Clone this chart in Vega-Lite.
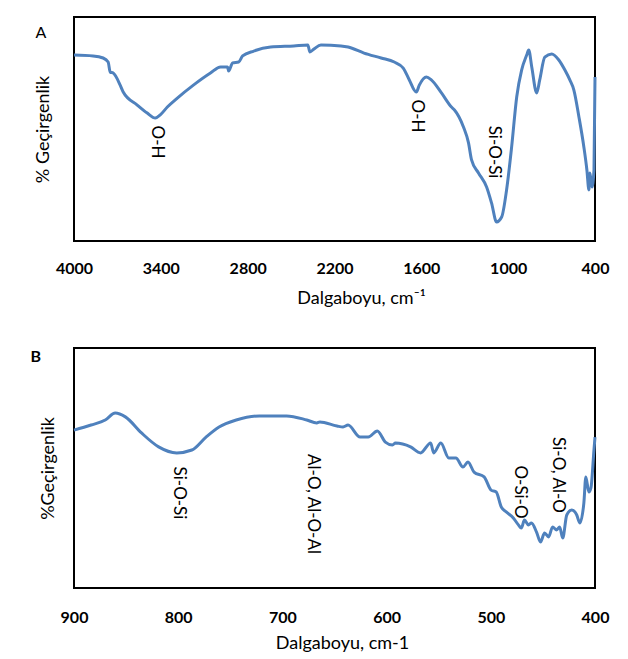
{
  "$schema": "https://vega.github.io/schema/vega-lite/v6.json",
  "padding": {"left": 29, "top": 16, "right": 5, "bottom": 5},
  "background": "white",
  "config": {
    "view": {"stroke": "black", "strokeWidth": 2},
    "font": "Lato",
    "axis": {"grid": false}
  },
  "datasets": {
    "specA": [
      {"wn": 4000, "t": 83.0}, {"wn": 3868, "t": 82.6}, {"wn": 3799, "t": 81.7}, {"wn": 3764, "t": 79.9},
      {"wn": 3750, "t": 75.4}, {"wn": 3729, "t": 75.0}, {"wn": 3681, "t": 69.6}, {"wn": 3660, "t": 66.5},
      {"wn": 3563, "t": 60.7}, {"wn": 3494, "t": 57.1}, {"wn": 3438, "t": 54.9}, {"wn": 3404, "t": 56.3},
      {"wn": 3355, "t": 59.8}, {"wn": 3286, "t": 63.8}, {"wn": 3175, "t": 69.6}, {"wn": 3057, "t": 75.0},
      {"wn": 2987, "t": 77.7}, {"wn": 2939, "t": 77.7}, {"wn": 2932, "t": 75.9}, {"wn": 2904, "t": 79.5},
      {"wn": 2862, "t": 79.9}, {"wn": 2835, "t": 82.6}, {"wn": 2758, "t": 84.8}, {"wn": 2641, "t": 86.6},
      {"wn": 2481, "t": 87.1}, {"wn": 2384, "t": 87.5}, {"wn": 2370, "t": 84.4}, {"wn": 2342, "t": 85.7},
      {"wn": 2294, "t": 87.5}, {"wn": 2155, "t": 87.1}, {"wn": 2106, "t": 86.6}, {"wn": 1996, "t": 83.9},
      {"wn": 1878, "t": 81.7}, {"wn": 1787, "t": 79.9}, {"wn": 1725, "t": 77.2}, {"wn": 1683, "t": 71.9},
      {"wn": 1635, "t": 66.5}, {"wn": 1614, "t": 69.6}, {"wn": 1565, "t": 73.2}, {"wn": 1531, "t": 71.9},
      {"wn": 1461, "t": 66.1}, {"wn": 1392, "t": 59.8}, {"wn": 1371, "t": 58.5}, {"wn": 1309, "t": 50.9},
      {"wn": 1274, "t": 43.8}, {"wn": 1253, "t": 36.2}, {"wn": 1205, "t": 30.4}, {"wn": 1149, "t": 24.1},
      {"wn": 1115, "t": 17.0}, {"wn": 1080, "t": 8.5}, {"wn": 1045, "t": 10.7}, {"wn": 1011, "t": 22.8},
      {"wn": 976, "t": 42.0}, {"wn": 941, "t": 64.3}, {"wn": 907, "t": 76.3}, {"wn": 872, "t": 83.0},
      {"wn": 858, "t": 85.3}, {"wn": 837, "t": 77.7}, {"wn": 803, "t": 66.1}, {"wn": 782, "t": 71.9},
      {"wn": 747, "t": 82.1}, {"wn": 699, "t": 83.5}, {"wn": 650, "t": 80.8}, {"wn": 608, "t": 76.3},
      {"wn": 574, "t": 71.9}, {"wn": 546, "t": 67.4}, {"wn": 511, "t": 55.4}, {"wn": 477, "t": 42.0},
      {"wn": 456, "t": 31.7}, {"wn": 442, "t": 22.8}, {"wn": 435, "t": 30.4}, {"wn": 421, "t": 24.1},
      {"wn": 407, "t": 31.7}, {"wn": 400, "t": 73.2}
    ],
    "specB": [
      {"wn": 900, "t": 65.8}, {"wn": 883.6, "t": 67.9}, {"wn": 870.0, "t": 70.0}, {"wn": 860.4, "t": 72.9},
      {"wn": 850.7, "t": 71.3}, {"wn": 835.2, "t": 64.6}, {"wn": 818.8, "t": 58.8}, {"wn": 801.4, "t": 56.3},
      {"wn": 786.9, "t": 57.5}, {"wn": 773.3, "t": 62.9}, {"wn": 760.8, "t": 67.1}, {"wn": 744.3, "t": 70.0},
      {"wn": 722.1, "t": 71.7}, {"wn": 696.0, "t": 71.7}, {"wn": 676.6, "t": 70.0}, {"wn": 667.0, "t": 68.8},
      {"wn": 664.0, "t": 69.2}, {"wn": 647.6, "t": 67.5}, {"wn": 641.8, "t": 67.1}, {"wn": 637.0, "t": 67.9},
      {"wn": 625.4, "t": 62.9}, {"wn": 617.6, "t": 62.9}, {"wn": 608.9, "t": 65.4}, {"wn": 601.2, "t": 60.8},
      {"wn": 594.4, "t": 59.6}, {"wn": 591.5, "t": 60.4}, {"wn": 577.0, "t": 58.8}, {"wn": 567.4, "t": 56.3},
      {"wn": 557.7, "t": 60.4}, {"wn": 554.8, "t": 56.3}, {"wn": 548.0, "t": 60.4}, {"wn": 540.3, "t": 54.2},
      {"wn": 533.5, "t": 54.2}, {"wn": 526.7, "t": 50.4}, {"wn": 521.9, "t": 52.5}, {"wn": 516.1, "t": 48.3},
      {"wn": 506.4, "t": 46.3}, {"wn": 499.7, "t": 40.8}, {"wn": 494.8, "t": 40.0}, {"wn": 490.0, "t": 33.8},
      {"wn": 485.2, "t": 31.7}, {"wn": 478.4, "t": 29.2}, {"wn": 473.5, "t": 26.3}, {"wn": 470.7, "t": 25.0},
      {"wn": 467.7, "t": 28.3}, {"wn": 463.9, "t": 26.3}, {"wn": 461.0, "t": 27.1}, {"wn": 456.1, "t": 23.3},
      {"wn": 452.3, "t": 19.2}, {"wn": 448.4, "t": 22.9}, {"wn": 444.5, "t": 21.3}, {"wn": 440.7, "t": 25.4},
      {"wn": 436.8, "t": 24.2}, {"wn": 433.9, "t": 25.4}, {"wn": 431.0, "t": 20.8}, {"wn": 427.1, "t": 30.4},
      {"wn": 422.3, "t": 32.5}, {"wn": 417.5, "t": 30.4}, {"wn": 414.6, "t": 27.1}, {"wn": 410.7, "t": 35.4},
      {"wn": 408.8, "t": 46.3}, {"wn": 405.9, "t": 40.0}, {"wn": 403.9, "t": 41.7}, {"wn": 401.0, "t": 57.5},
      {"wn": 400.0, "t": 62.9}
    ],
    "labA": [
      {"wn": 3424, "t": 44.2, "label": "O-H"},
      {"wn": 1628, "t": 55.8, "label": "O-H"},
      {"wn": 1101, "t": 39.7, "label": "Si-O-Si"}
    ],
    "labB": [
      {"wn": 799.4, "t": 39.6, "label": "Si-O-Si"},
      {"wn": 670.8, "t": 35.0, "label": "Al-O, Al-O-Al"},
      {"wn": 471.6, "t": 40.0, "label": "O-Si-O"},
      {"wn": 435.8, "t": 47.1, "label": "Si-O, Al-O"}
    ],
    "panA": [{"wn": 4229, "t": 92.9, "label": "A"}],
    "panB": [{"wn": 936.7, "t": 96.2, "label": "B"}]
  },
  "bounds": "flush",
  "spacing": 107,
  "vconcat": [
    {
      "width": 521,
      "height": 224,
      "encoding": {
        "x": {
          "field": "wn", "type": "quantitative",
          "scale": {"domain": [4000, 400], "nice": false, "zero": false},
          "axis": {
            "values": [4000, 3400, 2800, 2200, 1600, 1000, 400],
            "format": "d", "ticks": false, "domain": false, "labelPadding": 19,
            "labelFontSize": 16, "labelFontWeight": "bold", "labelColor": "black", "labelFlush": false,
            "title": "Dalgaboyu, cm⁻¹", "titleFontSize": 18, "titleFontWeight": "normal", "titleColor": "black",
            "titleX": 287, "titleY": 57, "titleBaseline": "middle"
          }
        },
        "y": {
          "field": "t", "type": "quantitative",
          "scale": {"domain": [0, 100], "nice": false},
          "axis": {
            "title": "% Geçirgenlik", "labels": false, "ticks": false, "domain": false,
            "titlePadding": 22, "titleFontSize": 18, "titleFontWeight": "normal", "titleColor": "black"
          }
        }
      },
      "layer": [
        {"data": {"name": "specA"}, "mark": {"type": "line", "color": "#4F81BD", "strokeWidth": 3, "interpolate": "monotone"}},
        {"data": {"name": "labA"}, "mark": {"type": "text", "angle": 90, "fontSize": 17, "color": "black", "align": "center", "baseline": "middle"}, "encoding": {"text": {"field": "label"}}},
        {"data": {"name": "panA"}, "mark": {"type": "text", "fontSize": 16, "color": "black", "align": "center", "baseline": "middle"}, "encoding": {"text": {"field": "label"}}}
      ]
    },
    {
      "width": 521,
      "height": 240,
      "encoding": {
        "x": {
          "field": "wn", "type": "quantitative",
          "scale": {"domain": [900, 400], "nice": false, "zero": false},
          "axis": {
            "values": [900, 800, 700, 600, 500, 400],
            "format": "d", "ticks": false, "domain": false, "labelPadding": 21,
            "labelFontSize": 16, "labelFontWeight": "bold", "labelColor": "black", "labelFlush": false,
            "title": "Dalgaboyu, cm-1", "titleFontSize": 18, "titleFontWeight": "normal", "titleColor": "black",
            "titleX": 268, "titleY": 55, "titleBaseline": "middle"
          }
        },
        "y": {
          "field": "t", "type": "quantitative",
          "scale": {"domain": [0, 100], "nice": false},
          "axis": {
            "title": "%Geçirgenlik", "labels": false, "ticks": false, "domain": false,
            "titlePadding": 17, "titleFontSize": 18, "titleFontWeight": "normal", "titleColor": "black"
          }
        }
      },
      "layer": [
        {"data": {"name": "specB"}, "mark": {"type": "line", "color": "#4F81BD", "strokeWidth": 3, "interpolate": "monotone"}},
        {"data": {"name": "labB"}, "mark": {"type": "text", "angle": 90, "fontSize": 17, "color": "black", "align": "center", "baseline": "middle"}, "encoding": {"text": {"field": "label"}}},
        {"data": {"name": "panB"}, "mark": {"type": "text", "fontSize": 16, "fontWeight": "bold", "color": "black", "align": "center", "baseline": "middle"}, "encoding": {"text": {"field": "label"}}}
      ]
    }
  ]
}
